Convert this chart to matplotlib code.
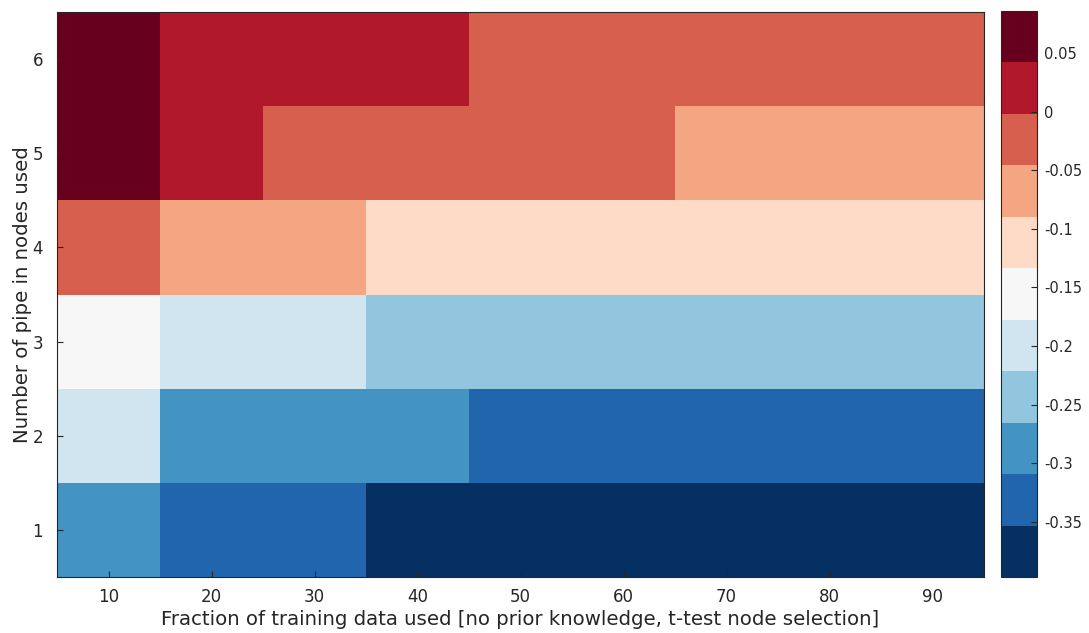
import numpy as np
import matplotlib
matplotlib.use("Agg")
import matplotlib.pyplot as plt
from matplotlib.colors import ListedColormap, BoundaryNorm

# Fraction of training data (%) and number of pipes in nodes
fractions = [10, 20, 30, 40, 50, 60, 70, 80, 90]
pipes = [1, 2, 3, 4, 5, 6]

# Score per (pipe count, fraction); rows follow `pipes`
row_pipe1 = [-0.285, -0.330, -0.330, -0.397, -0.385, -0.380, -0.380, -0.385, -0.390]
row_pipe2 = [-0.200, -0.290, -0.285, -0.290, -0.330, -0.330, -0.335, -0.335, -0.335]
row_pipe3 = [-0.155, -0.200, -0.200, -0.245, -0.240, -0.240, -0.245, -0.245, -0.245]
row_pipe4 = [-0.025, -0.070, -0.070, -0.110, -0.110, -0.115, -0.110, -0.115, -0.115]
row_pipe5 = [0.0858, 0.020, -0.025, -0.025, -0.020, -0.025, -0.065, -0.070, -0.065]
row_pipe6 = [0.0800, 0.020, 0.015, 0.020, -0.025, -0.020, -0.025, -0.025, -0.030]

cbar_ticks = [-0.35, -0.3, -0.25, -0.2, -0.15, -0.1, -0.05, 0, 0.05]
cbar_ticklabels = ["-0.35", "-0.3", "-0.25", "-0.2", "-0.15", "-0.1", "-0.05", "0", "0.05"]

data = np.array([row_pipe1, row_pipe2, row_pipe3, row_pipe4, row_pipe5, row_pipe6])

palette = ["#053061", "#2166ac", "#4393c3", "#92c5de", "#d1e5f0", "#f7f7f7",
           "#fddbc7", "#f4a582", "#d6604d", "#b2182b", "#67001f"]
cmap = ListedColormap(palette)
vmin, vmax = data.min(), data.max()
bounds = np.linspace(vmin, vmax, len(palette) + 1)
norm = BoundaryNorm(bounds, cmap.N)

W, H = 1089, 633
fig = plt.figure(figsize=(W / 100, H / 100), dpi=100)
ax = fig.add_axes([57 / W, 1 - 577 / H, (984 - 57) / W, (577 - 12) / H])
cax = fig.add_axes([1001 / W, 1 - 577 / H, (1037 - 1001) / W, (577 - 11) / H])

x = np.array(fractions, dtype=float)
y = np.array(pipes, dtype=float)
xe = np.concatenate([x - 5, [x[-1] + 5]])
ye = np.concatenate([y - 0.5, [y[-1] + 0.5]])
mesh = ax.pcolormesh(xe, ye, data, cmap=cmap, norm=norm, shading="flat")

edge = "#262626"
text_c = "#262626"
ax.set_xlim(xe[0], xe[-1])
ax.set_ylim(ye[0], ye[-1])
ax.set_xticks(fractions)
ax.set_yticks(pipes)
ax.tick_params(direction="in", length=4, width=0.8, color=edge,
               labelcolor=text_c, labelsize=12)
ax.tick_params(axis="x", pad=8)
ax.tick_params(axis="y", pad=10)
for s in ax.spines.values():
    s.set_color(edge)
    s.set_linewidth(0.8)
ax.set_xlabel("Fraction of training data used [no prior knowledge, t-test node selection]",
              fontsize=14.2, color=text_c, labelpad=3)
ax.set_ylabel("Number of pipe in nodes used", fontsize=14.2, color=text_c, labelpad=0)

cb = fig.colorbar(mesh, cax=cax, boundaries=bounds, ticks=cbar_ticks)
cb.ax.minorticks_off()
cb.ax.set_yticklabels(cbar_ticklabels)
cb.ax.tick_params(direction="in", length=4, width=0.8, color=edge,
                  labelcolor=text_c, labelsize=10.5, pad=5)
cb.outline.set_edgecolor(edge)
cb.outline.set_linewidth(0.8)

fig.savefig("out.png", dpi=100)
